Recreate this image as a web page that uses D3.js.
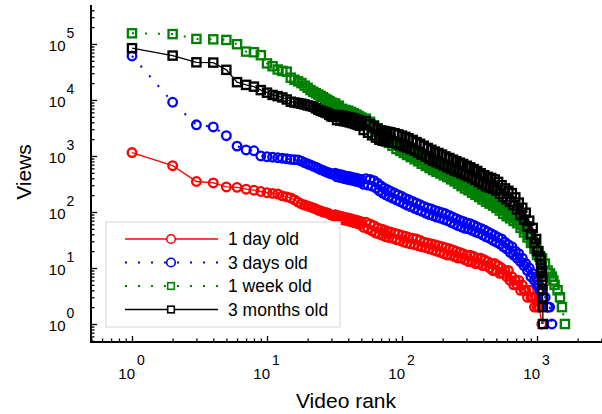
<!DOCTYPE html>
<html><head><meta charset="utf-8">
<script src="https://cdn.jsdelivr.net/npm/d3@7"></script>
<style>body{margin:0;background:#fff} svg{display:block;font-family:"Liberation Sans",Arial,sans-serif}</style>
</head><body><svg id="c" width="602" height="414"></svg>
<script>
// ---------- data ----------
const seriesNames = ["1 day old", "3 days old", "1 week old", "3 months old"];
const ranks = [1,2,3,4,5,6,7,8,9,10,11,12,13,14,15,16,17,18,19,20,21,22,23,24,25,26,27,28,29,30,31,
  32,33,34,35,36,37,38,39,40,41,42,43,44,45,46,47,48,49,50,
  52,54,56,58,60,62,64,66,68,70,72,74,76,78,80,
  82,85,88,91,94,97,100,103,106,109,112,
  116,120,124,128,132,136,140,
  145,150,155,160,165,170,175,180,
  186,192,198,204,210,
  217,224,231,238,245,252,
  260,268,276,284,
  293,302,311,320,
  330,340,350,
  361,372,383,395,407,419,432,445,458,472,486,500,
  515,530,546,562,579,596,614,632,651,671,691,712,733,755,778,801,825,850,876,902,929,957,986,
  1000];
const viewsDay1 = [1150,670,350,330,280,275,255,245,232,221, 215,210,194,186,178,164,150,139,133,128,
  123,118,113,108,104,100,98,96,92,88, 86,
  89,78,86,74,83,72,80,70,78,68,76,66,73,64,71,62,69,60,67,
  53,66,50,61,46,57,42,52,40,50,38,48,36,45,35,
  44,34,42,32,40,31,38,29,37,28,35,
  27,34,26,33,25,31,24,
  29,23,28,22,27,21,26,20,
  25,19,24,18,23,
  17,22,17,21,16,20,
  15,19,15,18,
  14,17,13,17,
  13,16,12,
  15,12,15,11,14,11,13,10,12,9,12,9,
  11,8,10,8,9,7,9,6,7,5,6,5,6,4,5,4,4,3,4,3,3,2,3,
  2];
const tailRanksDay1 = [1040, 1085];
const tailViewsDay1 = [2, 1];
const viewsDay3 = [61000,9100,3600,3300,2300,1500,1280,1240,1000,970, 950,930,910,890,870,860,850,810,760,720,
  690,660,630,600,570,550,530,510,495,480, 470,
  490,425,474,411,458,397,442,385,431,376,421,367,410,357,399,348,389,339,380,
  311,392,301,379,290,362,268,325,239,291,217,267,202,250,190,
  235,177,218,164,202,153,189,142,175,133,166,
  125,154,116,144,109,135,103,
  126,95,118,90,113,86,107,81,
  102,78,97,74,93,
  70,87,65,81,61,76,
  57,71,54,68,
  51,64,50,62,
  47,58,44,
  54,42,51,39,48,36,44,34,41,31,38,29,
  35,27,33,24,29,22,26,19,24,17,20,15,18,13,15,11,12,9,10,7,8,6,7,
  5];
const tailRanksDay3 = [1030,1050,1080,1107,1150,1200,1240,1290];
const tailViewsDay3 = [5,4,4,3,3,2,2,1];
const viewsWeek1 = [155000,150000,123000,121000,118000,99000,73000,71000,63000,45000,
  40000,35000,33000,32000,25000,23000,21500,20000,18000,16500,
  15000,14000,13200,12500,11800,11200,10500,10000,9500,9000, 8600,
  8640,7450,7900,6640,6960,6120,6640,5880,6430,5650,6110,5360,5800,5080,5480,4790,5160,4510,4850,
  3970,4630,3560,4080,3090,3550,2710,3100,2350,2750,2120,2460,1890,2220,1710,
  1990,1520,1740,1330,1570,1230,1440,1130,1330,1040,1230,
  956,1120,875,1030,803,931,726,
  853,663,776,609,720,559,665,523,
  620,487,576,451,537,
  419,493,383,449,352,416,
  320,371,289,338,
  262,310,244,283,
  221,260,203,
  238,185,216,167,196,153,180,141,166,130,153,118,
  137,106,122,93,109,84,99,77,90,69,81,63,70,52,59,43,49,35,39,28,30,22,22,
  17];
const tailRanksWeek1 = [1050,1090,1145,1200,1250,1290,1320,1350,1420,1480,1530,1610];
const tailViewsWeek1 = [16,15,12,9,8,7,6,5,4,3,2,1];
const viewsMonth3 = [84000,62000,47000,46500,34500,20800,18600,17300,15000,13500,
  12300,11700,11100,10200,9300,9000,8800,8600,8300,8000,
  7800,7600,7100,6700,6400,6200,6000,5800,5400,5100, 5000,
  5430,4370,5320,4280,5210,4190,5100,4080,4930,3970,4820,3850,4650,3720,4490,3580,4320,3450,4160,
  2910,4200,2600,3720,2340,3380,2130,3070,1950,2870,1870,2790,1820,2710,1780,
  2650,1730,2550,1650,2430,1570,2310,1490,2190,1410,2060,
  1330,1930,1240,1770,1140,1650,1060,
  1520,969,1390,887,1290,822,1200,777,
  1130,724,1060,676,982,
  631,921,586,860,549,810,
  521,761,488,718,
  460,669,431,626,
  403,583,374,
  540,342,491,313,454,289,424,273,405,260,381,240,
  344,212,301,187,264,167,239,151,217,132,182,110,147,88,119,73,97,55,70,40,52,28,33,
  20];
const tailRanksMonth3 = [1025,1050,1065,1072,1077,1081,1085,1088,1091,1094,1097,1100,1103,1107];
const tailViewsMonth3 = [20,16,14,12,10,9,8,7,6,5,4,3,2,1];
const xTickExponents = [0, 1, 2, 3];
const yTickExponents = [0, 1, 2, 3, 4, 5];

// ---------- styles ----------
const colors = ["#ff0000", "#0000ff", "#008000", "#000000"];
const markers = ["circle", "circle", "square", "square"];
const dashes = [null, "2,11", "2,11", null];

const svg = d3.select("#c");
const x = d3.scaleLog().domain([0.497, 3030]).range([91, 602]);
const y = d3.scaleLog().domain([0.477, 496000]).range([342, 5]);

const allSeries = [
  [viewsDay1, tailRanksDay1, tailViewsDay1],
  [viewsDay3, tailRanksDay3, tailViewsDay3],
  [viewsWeek1, tailRanksWeek1, tailViewsWeek1],
  [viewsMonth3, tailRanksMonth3, tailViewsMonth3]
].map(([v, tr, tv], i) => {
  if (v.length !== ranks.length) console.error("length mismatch", i, v.length, ranks.length);
  return {
    name: seriesNames[i],
    pts: ranks.map((r, j) => ({r, v: v[j]})).concat(tr.map((r, j) => ({r, v: tv[j]})))
  };
});

// ---------- series ----------
const line = d3.line().x(d => x(d.r)).y(d => y(d.v));
function drawMarker(g, type, color, cx, cy, size, fill, sw) {
  if (type === "circle") {
    g.append("circle").attr("cx", cx).attr("cy", cy).attr("r", size)
      .attr("fill", fill).attr("stroke", color).attr("stroke-width", sw);
  } else {
    g.append("rect").attr("x", cx - size).attr("y", cy - size)
      .attr("width", size * 2).attr("height", size * 2)
      .attr("fill", fill).attr("stroke", color).attr("stroke-width", sw);
  }
}
allSeries.forEach((s, i) => {
  const g = svg.append("g");
  g.append("path").attr("d", line(s.pts)).attr("fill", "none")
    .attr("stroke", colors[i]).attr("stroke-width", dashes[i] ? 2 : 1.3)
    .attr("stroke-dasharray", dashes[i]);
  s.pts.forEach(p => drawMarker(g, markers[i], colors[i], x(p.r), y(p.v),
    markers[i] === "circle" ? 4.3 : 4.1, "none", 2.3));
});

// ---------- axes ----------
function minorVals(dom) {
  const out = [];
  for (let k = -1; k <= 6; k++) for (let m = 2; m <= 9; m++) {
    const v = m * Math.pow(10, k);
    if (v >= dom[0] && v <= dom[1]) out.push(v);
  }
  return out;
}
const xMajor = xTickExponents.map(e => Math.pow(10, e));
const yMajor = yTickExponents.map(e => Math.pow(10, e));
function styleAxis(g) {
  g.select(".domain").remove();
  g.selectAll(".tick line").attr("stroke", "#000").attr("stroke-width", 1.3);
}
svg.append("g").attr("transform", "translate(0,342)")
  .call(d3.axisBottom(x).tickValues(minorVals(x.domain())).tickSize(-3.5).tickFormat(() => "")).call(styleAxis);
svg.append("g").attr("transform", "translate(0,342)")
  .call(d3.axisBottom(x).tickValues(xMajor).tickSize(-6).tickFormat(() => "")).call(styleAxis);
svg.append("g").attr("transform", "translate(91,0)")
  .call(d3.axisLeft(y).tickValues(minorVals(y.domain())).tickSize(-3.5).tickFormat(() => "")).call(styleAxis);
svg.append("g").attr("transform", "translate(91,0)")
  .call(d3.axisLeft(y).tickValues(yMajor).tickSize(-6).tickFormat(() => "")).call(styleAxis);
svg.append("path").attr("d", "M91,5V342H602").attr("fill", "none").attr("stroke", "#000").attr("stroke-width", 2);

// tick labels
xTickExponents.forEach(e => {
  const px = x(Math.pow(10, e));
  svg.append("text").attr("x", px + 3).attr("y", 379).attr("text-anchor", "end")
    .attr("font-size", 15).text("10");
  svg.append("text").attr("x", px + 5).attr("y", 365).attr("text-anchor", "start")
    .attr("font-size", 14).text(e);
});
yTickExponents.forEach(e => {
  const py = y(Math.pow(10, e));
  svg.append("text").attr("x", 65.5).attr("y", py + 7).attr("text-anchor", "end")
    .attr("font-size", 15).text("10");
  svg.append("text").attr("x", 66.5).attr("y", py - 6).attr("text-anchor", "start")
    .attr("font-size", 14).text(e);
});
svg.append("text").attr("x", 346).attr("y", 408).attr("text-anchor", "middle")
  .attr("font-size", 21).text("Video rank");
svg.append("text").attr("transform", "translate(31,172) rotate(-90)").attr("text-anchor", "middle")
  .attr("font-size", 21).text("Views");

// ---------- legend ----------
const lg = svg.append("g");
lg.append("rect").attr("x", 106).attr("y", 222).attr("width", 234).attr("height", 105)
  .attr("fill", "#fff").attr("stroke", "#e4e4e4").attr("stroke-width", 1.5);
seriesNames.forEach((n, i) => {
  const ly = 239 + i * 23.5;
  lg.append("line").attr("x1", 125).attr("x2", 218).attr("y1", ly).attr("y2", ly)
    .attr("stroke", colors[i]).attr("stroke-width", dashes[i] ? 2 : 1.6)
    .attr("stroke-dasharray", dashes[i]);
  drawMarker(lg, markers[i], colors[i], 171, ly, markers[i] === "circle" ? 4.3 : 3.3, "#fff", 1.6);
  lg.append("text").attr("x", 228).attr("y", ly + 6).attr("font-size", 17.5).text(n);
});
</script></body></html>
